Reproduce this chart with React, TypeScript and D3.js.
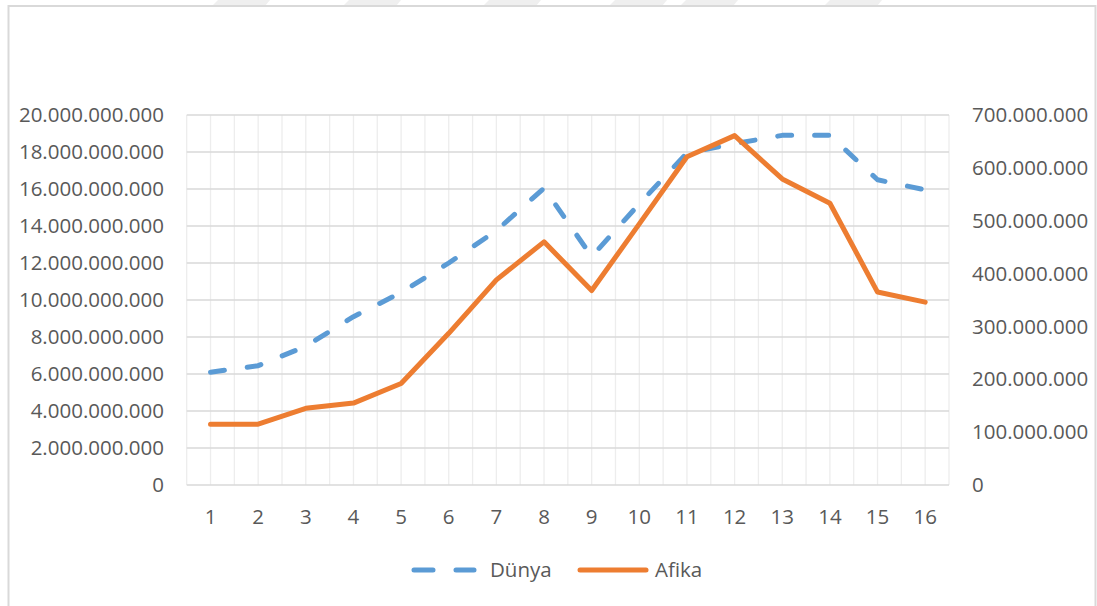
import React from "react";
import * as d3 from "d3";

const categories = [1, 2, 3, 4, 5, 6, 7, 8, 9, 10, 11, 12, 13, 14, 15, 16];
const dunya = [6.1e9, 6.45e9, 7.5e9, 9.1e9, 10.4e9, 12.0e9, 13.75e9, 16.05e9, 12.35e9, 15.2e9, 17.95e9, 18.45e9, 18.9e9, 18.9e9, 16.5e9, 15.95e9];
const afika = [115e6, 115e6, 145e6, 155e6, 192e6, 287e6, 388e6, 460e6, 368e6, 494e6, 621e6, 661e6, 579e6, 533e6, 365e6, 346e6];
const leftTicks = [0, 2e9, 4e9, 6e9, 8e9, 10e9, 12e9, 14e9, 16e9, 18e9, 20e9];
const rightTicks = [0, 100e6, 200e6, 300e6, 400e6, 500e6, 600e6, 700e6];
const seriesNames = ["Dünya", "Afika"];
const watermarkX = [212, 343, 483, 609, 680, 824];

const W = 1097;
const H = 606;
const plot = { left: 186.7, right: 949, top: 115, bottom: 485 };
const FONT = "'Open Sans', sans-serif";
const TEXT = "#595959";
const BLUE = "#5B9BD5";
const ORANGE = "#ED7D31";

const locale = d3.formatLocale({ decimal: ",", thousands: ".", grouping: [3], currency: ["", ""] });
const fmt = locale.format(",");

export default function App() {
  const x = d3.scaleBand<number>().domain(categories).range([plot.left, plot.right]).paddingInner(0).paddingOuter(0);
  const bw = x.bandwidth();
  const cx = (c: number) => (x(c) as number) + bw / 2;
  const yL = d3.scaleLinear().domain([0, 20e9]).range([plot.bottom, plot.top]);
  const yR = d3.scaleLinear().domain([0, 700e6]).range([plot.bottom, plot.top]);

  const lineL = d3.line<number>().x((_, i) => cx(categories[i])).y((d) => yL(d));
  const lineR = d3.line<number>().x((_, i) => cx(categories[i])).y((d) => yR(d));

  const vLines: number[] = [];
  categories.forEach((c) => {
    vLines.push(x(c) as number);
    vLines.push(cx(c));
  });
  vLines.push(plot.right);

  return (
    <svg width={W} height={H} style={{ position: "absolute", left: 0, top: 0, background: "#fff" }} fontFamily={FONT}>
      {watermarkX.map((wx, i) => (
        <polygon key={i} points={`${wx + 6},0 ${wx + 58},0 ${wx + 53},6 ${wx},6`} fill="#efefef" />
      ))}
      <rect x={8.5} y={6} width={1087} height={620} fill="#fff" stroke="#d9d9d9" strokeWidth={2} />
      {vLines.map((vx, i) => (
        <line key={"v" + i} x1={vx} x2={vx} y1={plot.top} y2={plot.bottom} stroke="#ededed" strokeWidth={1.3} />
      ))}
      {leftTicks.map((t, i) => (
        <line key={"h" + i} x1={plot.left} x2={plot.right} y1={yL(t)} y2={yL(t)} stroke="#d9d9d9" strokeWidth={1.5} />
      ))}
      {leftTicks.map((t, i) => (
        <text key={"l" + i} x={164} y={yL(t)} dy="0.35em" textAnchor="end" fontSize={20.5} fill={TEXT}>
          {fmt(t)}
        </text>
      ))}
      {rightTicks.map((t, i) => (
        <text key={"r" + i} x={972} y={yR(t)} dy="0.35em" textAnchor="start" fontSize={20.5} fill={TEXT}>
          {fmt(t)}
        </text>
      ))}
      {categories.map((c) => (
        <text key={"c" + c} x={cx(c)} y={517} dy="0.35em" textAnchor="middle" fontSize={20.5} fill={TEXT}>
          {c}
        </text>
      ))}
      <path d={lineL(dunya) || ""} fill="none" stroke={BLUE} strokeWidth={5} strokeDasharray="14 23" strokeLinecap="round" strokeLinejoin="round" />
      <path d={lineR(afika) || ""} fill="none" stroke={ORANGE} strokeWidth={5} strokeLinecap="round" strokeLinejoin="round" />
      <line x1={414} x2={474} y1={570} y2={570} stroke={BLUE} strokeWidth={5} strokeDasharray="19 23" strokeLinecap="round" />
      <text x={490} y={570} dy="0.35em" fontSize={20.5} fill={TEXT}>{seriesNames[0]}</text>
      <line x1={580} x2={646} y1={570} y2={570} stroke={ORANGE} strokeWidth={5} strokeLinecap="round" />
      <text x={655} y={570} dy="0.35em" fontSize={20.5} fill={TEXT}>{seriesNames[1]}</text>
    </svg>
  );
}
